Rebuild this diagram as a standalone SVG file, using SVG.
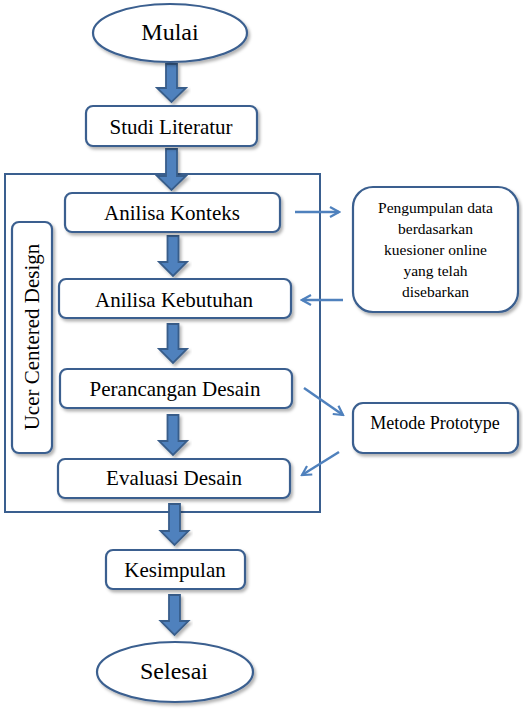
<svg xmlns="http://www.w3.org/2000/svg" width="523" height="709" viewBox="0 0 523 709">
<defs>
<filter id="sh" x="-10%" y="-10%" width="125%" height="130%">
<feDropShadow dx="2" dy="2.5" stdDeviation="1.5" flood-color="#000" flood-opacity="0.3"/>
</filter>
<marker id="open" viewBox="0 0 12 12" refX="10" refY="6" markerWidth="12" markerHeight="12" markerUnits="userSpaceOnUse" orient="auto">
<path d="M1,1 L10,6 L1,11" fill="none" stroke="#4f81bd" stroke-width="2.2"/>
</marker>
</defs>
<style>
.box{fill:#fff;stroke:#3a5f8f;stroke-width:2.2;filter:url(#sh)}
.t{font-family:"Liberation Serif","Times New Roman",serif;fill:#000;text-anchor:middle}
.big{font-size:21px}
.blk{fill:#4f81bd;stroke:#385d8a;stroke-width:1.8;stroke-linejoin:miter;filter:url(#sh)}
.thin{fill:none;stroke:#4f81bd;stroke-width:2.5;marker-end:url(#open)}
</style>
<rect width="523" height="709" fill="#fff"/>

<g id="container">
<rect x="5" y="174" width="315" height="338" fill="none" stroke="#3a5f8f" stroke-width="2"/>
</g>

<g id="connectors">
<path class="blk" d="M166,64 H177 V88 H186 L171.5,102 L157,88 H166 Z"/>
<path class="blk" d="M166,149 H177 V176 H186 L171.5,190 L157,176 H166 Z"/>
<path class="blk" d="M167.5,236 H178.5 V262 H187 L173,276 L159,262 H167.5 Z"/>
<path class="blk" d="M167.5,324 H178.5 V349 H187 L173,363 L159,349 H167.5 Z"/>
<path class="blk" d="M167.5,415 H178.5 V441 H187 L173,455 L159,441 H167.5 Z"/>
<path class="blk" d="M169,504 H180 V531 H188.5 L174.5,545 L160.5,531 H169 Z"/>
<path class="blk" d="M169,595 H180 V621 H188.5 L174.5,635 L160.5,621 H169 Z"/>
<line class="thin" x1="295" y1="212" x2="339" y2="212"/>
<line class="thin" x1="343" y1="300" x2="302" y2="300"/>
<line class="thin" x1="304" y1="388" x2="343" y2="415"/>
<line class="thin" x1="339" y1="452" x2="302" y2="475"/>
</g>

<g id="mulai">
<ellipse class="box" cx="170" cy="33" rx="77" ry="29"/>
<text class="t" x="170" y="40" font-size="24">Mulai</text>
</g>

<g id="studi">
<rect class="box" x="86" y="106" width="171" height="40" rx="7"/>
<text class="t big" x="171" y="134">Studi Literatur</text>
</g>

<g id="ucd">
<rect class="box" x="12" y="222" width="40" height="231" rx="7"/>
<text class="t big" transform="translate(39,337) rotate(-90)">Ucer Centered Design</text>
</g>

<g id="konteks">
<rect class="box" x="65" y="193" width="215" height="39" rx="7"/>
<text class="t big" x="172" y="220">Anilisa Konteks</text>
</g>

<g id="kebutuhan">
<rect class="box" x="59" y="279" width="232" height="39" rx="7"/>
<text class="t big" x="174" y="307">Anilisa Kebutuhan</text>
</g>

<g id="perancangan">
<rect class="box" x="60" y="369" width="232" height="39" rx="7"/>
<text class="t big" x="175" y="396">Perancangan Desain</text>
</g>

<g id="evaluasi">
<rect class="box" x="58" y="459" width="232" height="39" rx="7"/>
<text class="t big" x="174" y="485">Evaluasi Desain</text>
</g>

<g id="kesimpulan">
<rect class="box" x="106" y="550" width="139" height="39" rx="7"/>
<text class="t big" x="175" y="577">Kesimpulan</text>
</g>

<g id="selesai">
<ellipse class="box" cx="175" cy="672" rx="78" ry="30"/>
<text class="t" x="174" y="679" font-size="24">Selesai</text>
</g>

<g id="pengumpulan">
<rect class="box" x="353" y="187" width="165" height="125" rx="20"/>
<text class="t" font-size="15.5"><tspan x="435.5" y="213">Pengumpulan data</tspan><tspan x="435.5" y="234">berdasarkan</tspan><tspan x="435.5" y="255">kuesioner online</tspan><tspan x="435.5" y="276">yang telah</tspan><tspan x="435.5" y="297">disebarkan</tspan></text>
</g>

<g id="prototype">
<rect class="box" x="353" y="403" width="165" height="50" rx="10"/>
<text class="t" x="435" y="429" font-size="18">Metode Prototype</text>
</g>
</svg>
